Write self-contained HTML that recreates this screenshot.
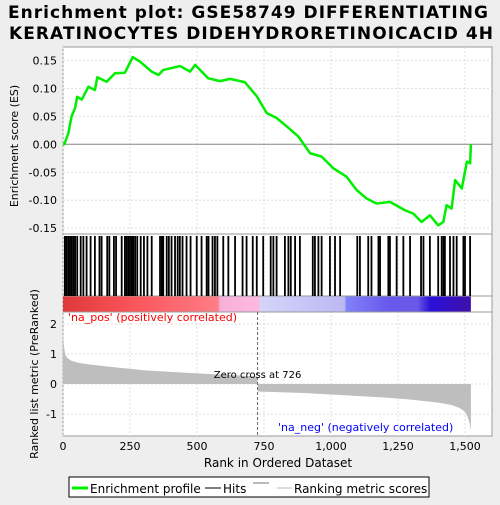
<!DOCTYPE html>
<html><head><meta charset="utf-8"><style>
body{margin:0;background:#eeeeee;font-family:"Liberation Sans","DejaVu Sans",sans-serif;}
svg text{font-family:"DejaVu Sans","Liberation Sans",sans-serif;}
</style></head><body>
<svg id="c" width="500" height="500" xmlns="http://www.w3.org/2000/svg">
<rect width="500" height="500" fill="#eeeeee"/>
<text x="8" y="18" font-size="17" font-weight="bold" textLength="480" lengthAdjust="spacing">Enrichment plot: GSE58749 DIFFERENTIATING</text>
<text x="9" y="39" font-size="17" font-weight="bold" textLength="484" lengthAdjust="spacing">KERATINOCYTES DIDEHYDRORETINOICACID 4H</text>
<rect x="63" y="47" width="429" height="389" fill="#fff" stroke="#999"/>
<g id="grid"></g>
<defs><linearGradient id="cg" x1="0" x2="1">
<stop offset="0" stop-color="#e03838"/><stop offset="0.2" stop-color="#ff5a60"/><stop offset="0.38" stop-color="#ff7d85"/><stop offset="0.385" stop-color="#f8b0d8"/><stop offset="0.48" stop-color="#ffb8e0"/><stop offset="0.485" stop-color="#d4d4fa"/><stop offset="0.69" stop-color="#bcb8f4"/><stop offset="0.695" stop-color="#8080fa"/><stop offset="0.8" stop-color="#6858ec"/><stop offset="0.87" stop-color="#6a58e8"/><stop offset="0.9" stop-color="#2a10d8"/><stop offset="1" stop-color="#4010a8"/></linearGradient></defs>
<rect id="cbar" y="296" height="16" fill="url(#cg)"/>
<line x1="63" x2="492" y1="234" y2="234" stroke="#999"/>
<line x1="63" x2="492" y1="296" y2="296" stroke="#999"/>
<line x1="63" x2="492" y1="312" y2="312" stroke="#999"/>
<g id="marks"></g>
<text x="68" y="321" font-size="11" fill="#ff0000">'na_pos' (positively correlated)</text>
<text x="278" y="431" font-size="11" fill="#0000ff">'na_neg' (negatively correlated)</text>
<text x="22" y="150" font-size="11" transform="rotate(-90 18 150)" text-anchor="middle">Enrichment score (ES)</text>
<text x="38" y="374" font-size="11" transform="rotate(-90 38 374)" text-anchor="middle">Ranked list metric (PreRanked)</text>
<text x="278" y="467" font-size="12" text-anchor="middle">Rank in Ordered Dataset</text>
<g>
<rect x="69" y="477" width="360" height="20" fill="#fff" stroke="#000"/>
<line x1="72" x2="88" y1="488" y2="488" stroke="#00ee00" stroke-width="3"/>
<text x="90" y="493" font-size="12">Enrichment profile</text>
<line x1="205" x2="221" y1="488" y2="488" stroke="#000"/>
<text x="223" y="493" font-size="12">Hits</text>
<line x1="253" x2="269" y1="483" y2="483" stroke="#777"/>
<line x1="277" x2="292" y1="488" y2="488" stroke="#bbb"/>
<text x="294" y="493" font-size="12">Ranking metric scores</text>
</g>
</svg>
<script>
const esRanks=[0,5,20,32,45,53,70,95,119,128,163,194,231,260,287,331,356,374,437,474,493,542,586,623,679,723,760,797,835,878,922,965,1009,1058,1096,1133,1170,1220,1276,1307,1338,1369,1400,1419,1431,1450,1463,1488,1507,1519,1522];
const esValues=[0,0,0.02,0.05,0.065,0.085,0.08,0.103,0.097,0.12,0.112,0.127,0.128,0.156,0.148,0.13,0.124,0.133,0.14,0.13,0.142,0.118,0.113,0.117,0.111,0.086,0.056,0.047,0.032,0.014,-0.016,-0.022,-0.043,-0.058,-0.082,-0.097,-0.106,-0.103,-0.118,-0.124,-0.139,-0.127,-0.145,-0.139,-0.109,-0.115,-0.064,-0.079,-0.031,-0.034,0];
const hitRanks=[7,13,20,26,32,39,45,53,66,76,88,103,119,136,144,165,173,190,198,219,231,237,244,250,256,262,269,277,290,302,315,331,362,368,374,387,395,405,418,428,436,446,461,476,499,517,536,543,558,567,576,598,617,642,670,685,708,723,747,775,785,797,828,841,850,866,884,932,940,953,965,996,1015,1034,1098,1108,1139,1151,1177,1183,1214,1220,1245,1270,1295,1336,1345,1369,1400,1413,1420,1425,1444,1457,1469,1494,1500,1519];
const metricRanks=[0,3,8,15,30,60,100,150,200,300,450,600,725,727,800,900,1000,1100,1200,1300,1400,1450,1480,1500,1510,1517,1522];
const metricValues=[1.75,1.3,1.0,0.88,0.78,0.7,0.65,0.6,0.55,0.46,0.38,0.31,0.25,-0.25,-0.27,-0.3,-0.35,-0.4,-0.45,-0.52,-0.62,-0.7,-0.8,-0.92,-1.1,-1.3,-1.55];
const xTicks=[0,250,500,750,1000,1250,1500];
const xTickLabels=["0","250","500","750","1,000","1,250","1,500"];
const esTicks=[0.15,0.10,0.05,0,-0.05,-0.10,-0.15];
const esTickLabels=["0.15","0.10","0.05","0.00","-0.05","-0.10","-0.15"];
const mTicks=[2,1,0,-1];
const mTickLabels=["2","1","0","-1"];
const zeroCross=726, nRanks=1522;
const NS="http://www.w3.org/2000/svg";
const X=r=>63+r*0.268;
const YE=v=>144.3-v*559;
const YM=v=>384-v*30;
function mk(t,a,p){const e=document.createElementNS(NS,t);for(const k in a)e.setAttribute(k,a[k]);(p||document.getElementById('marks')).appendChild(e);return e;}
const g=document.getElementById('grid');
document.getElementById('cbar').setAttribute('x',63);
document.getElementById('cbar').setAttribute('width',X(nRanks)-63);
xTicks.forEach((t,i)=>{
 const l=mk('line',{x1:X(t),x2:X(t),y1:47,y2:436,stroke:'#ddd','stroke-dasharray':'2,2'},g);
 
 const tx=mk('text',{x:X(t),y:450,'font-size':11,'text-anchor':'middle'});
 tx.textContent=xTickLabels[i];
 
});
esTicks.forEach((t,i)=>{
 const l=mk('line',{x1:63,x2:492,y1:YE(t),y2:YE(t),stroke:'#ddd','stroke-dasharray':'2,2'},g);
 
 const tx=mk('text',{x:57,y:YE(t)+4,'font-size':11,'text-anchor':'end'});
 tx.textContent=esTickLabels[i];
 
});
mTicks.forEach((t,i)=>{
 const l=mk('line',{x1:63,x2:492,y1:YM(t),y2:YM(t),stroke:'#ddd','stroke-dasharray':'2,2'},g);
 
 const tx=mk('text',{x:57,y:YM(t)+4,'font-size':11,'text-anchor':'end'});
 tx.textContent=mTickLabels[i];
 
});
const z=mk('line',{x1:63,x2:492,y1:YE(0),y2:YE(0),stroke:'#888'});

hitRanks.forEach(r=>{
 const h=mk('line',{x1:X(r),x2:X(r),y1:236,y2:296,stroke:'#000','stroke-width':1.8});
 
});
let d='M'+X(0)+','+YM(0);
metricRanks.forEach((r,i)=>{d+=' L'+X(r)+','+YM(metricValues[i]);});
d+=' L'+X(nRanks)+','+YM(0)+' Z';
const a=mk('path',{d:d,fill:'#bebebe'});

const zc=mk('line',{x1:X(zeroCross),x2:X(zeroCross),y1:312,y2:436,stroke:'#666','stroke-dasharray':'3,2'});

const zt=mk('text',{x:X(zeroCross),y:378,'font-size':10,'text-anchor':'middle'});
zt.textContent='Zero cross at '+zeroCross;

const pts=esRanks.map((r,i)=>X(r)+','+YE(esValues[i])).join(' ');
const es=mk('polyline',{points:pts,fill:'none',stroke:'#00ee00','stroke-width':2.5,'stroke-linejoin':'round'});

</script>
</body></html>
